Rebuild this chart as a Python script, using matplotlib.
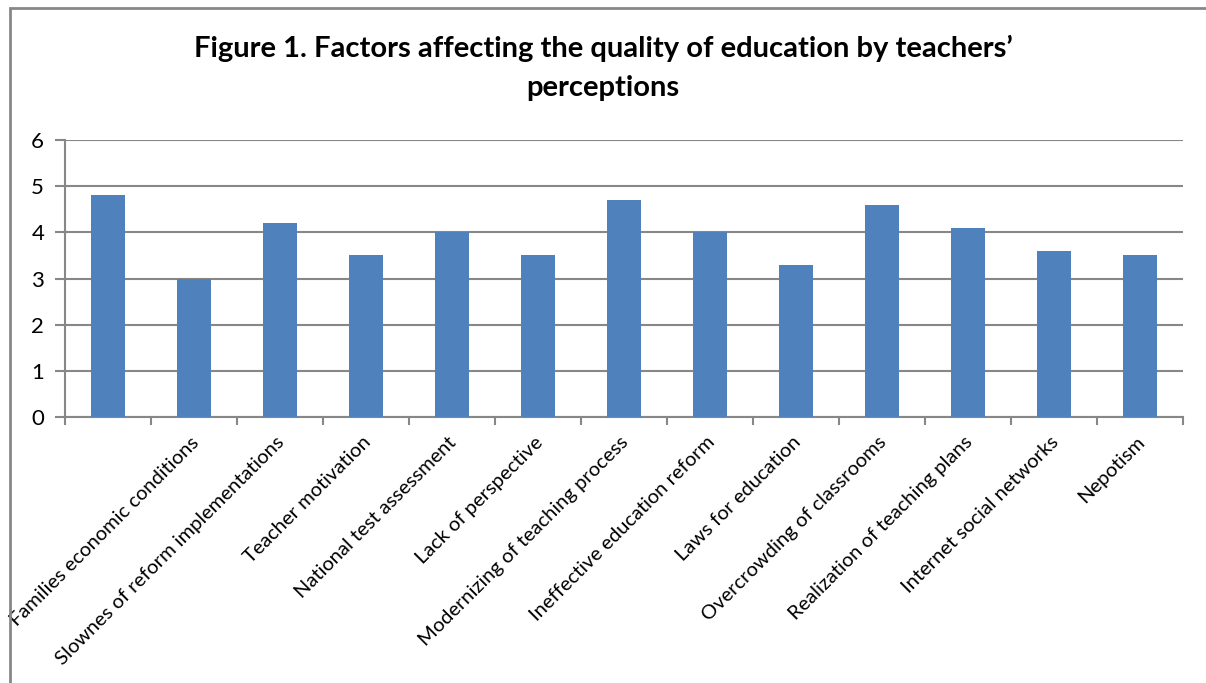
import numpy as np
import matplotlib.pyplot as plt
from matplotlib.patches import Rectangle

plt.rcParams['font.family'] = ['Lato', 'DejaVu Sans']

# Data (first bar has no category label)
categories = ['', 'Families economic conditions', 'Slownes of reform implementations',
              'Teacher motivation', 'National test assessment', 'Lack of perspective',
              'Modernizing of teaching process', 'Ineffective education reform',
              'Laws for education', 'Overcrowding of classrooms',
              'Realization of teaching plans', 'Internet social networks', 'Nepotism']
values = [4.8, 3.0, 4.2, 3.5, 4.0, 3.5, 4.7, 4.0, 3.3, 4.6, 4.1, 3.6, 3.5]
y_ticks = [0, 1, 2, 3, 4, 5, 6]

grey = '#878787'

fig = plt.figure(figsize=(12.06, 6.83), dpi=100)
ax = fig.add_axes([65 / 1206, 1 - 417 / 683, 1118 / 1206, 277 / 683])

x = np.arange(len(categories))
ax.bar(x, values, width=0.4, color='#4F81BD', zorder=3)

ax.set_xlim(-0.5, len(categories) - 0.5)
ax.set_ylim(0, 6)
ax.set_yticks(y_ticks)
ax.yaxis.grid(True, color=grey, linewidth=1.5, zorder=0)

for side in ['top', 'right']:
    ax.spines[side].set_visible(False)
for side in ['left', 'bottom']:
    ax.spines[side].set_color(grey)
    ax.spines[side].set_linewidth(1.5)

# major ticks at category boundaries, small inner ticks at bar centres
ax.set_xticks(np.arange(len(categories) + 1) - 0.5)
ax.set_xticklabels([])
ax.set_xticks(x, minor=True)
ax.tick_params(axis='x', which='major', direction='out', length=6, width=1.5, color=grey)
ax.tick_params(axis='x', which='minor', direction='in', length=4, width=1.5, color=grey)
ax.tick_params(axis='y', direction='out', length=7, width=1.5, color=grey,
               labelsize=16, pad=8)

for xi, lab in zip(x, categories):
    ax.annotate(lab, xy=(xi, 0), xytext=(-3, -12), textcoords='offset points',
                rotation=45, rotation_mode='anchor', ha='right', va='top',
                fontsize=14.5, annotation_clip=False)

fig.text(0.5, 1 - 48 / 683, 'Figure 1. Factors affecting the quality of education by teachers\u2019',
         ha='center', va='center', fontsize=21, fontweight='bold')
fig.text(0.5, 1 - 88 / 683, 'perceptions',
         ha='center', va='center', fontsize=21, fontweight='bold')

# outer chart border
fig.patches.append(Rectangle((10 / 1206, -0.1), 1.2, 1 - 8 / 683 + 0.1,
                             transform=fig.transFigure, fill=False,
                             edgecolor=grey, linewidth=2))

fig.savefig('out.png', dpi=100)
